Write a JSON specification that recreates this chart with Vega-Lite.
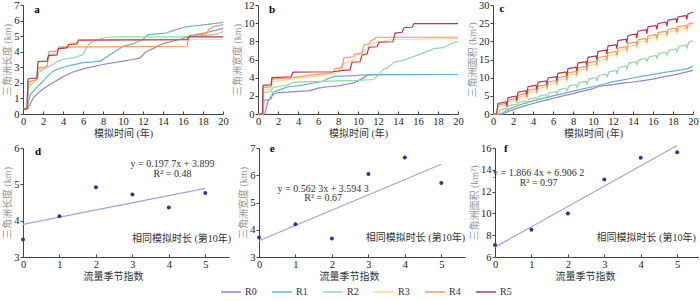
{
"$schema": "https://vega.github.io/schema/vega-lite/v6.json",
"padding": {"left": 2, "top": 0, "right": 0, "bottom": 0},
"datasets": {
"a": [
{"s":"R0","t":0,"v":0.3},{"s":"R0","t":0.5,"v":0.35},{"s":"R0","t":0.7,"v":0.6},{"s":"R0","t":1.0,"v":1.0},{"s":"R0","t":1.5,"v":1.35},{"s":"R0","t":2.0,"v":1.6},{"s":"R0","t":3.0,"v":2.0},{"s":"R0","t":4.0,"v":2.4},{"s":"R0","t":5.0,"v":2.7},{"s":"R0","t":6.3,"v":2.95},{"s":"R0","t":8.0,"v":3.18},{"s":"R0","t":10.0,"v":3.4},{"s":"R0","t":11.0,"v":3.5},{"s":"R0","t":11.7,"v":3.6},{"s":"R0","t":12.3,"v":4.0},{"s":"R0","t":13.0,"v":4.2},{"s":"R0","t":13.7,"v":4.45},{"s":"R0","t":14.5,"v":4.6},{"s":"R0","t":15.7,"v":4.8},{"s":"R0","t":16.5,"v":4.95},{"s":"R0","t":17.3,"v":5.1},{"s":"R0","t":18.5,"v":5.25},{"s":"R0","t":20.0,"v":5.5},
{"s":"R1","t":0,"v":0.3},{"s":"R1","t":0.4,"v":0.35},{"s":"R1","t":0.5,"v":0.6},{"s":"R1","t":0.7,"v":1.2},{"s":"R1","t":1.0,"v":1.45},{"s":"R1","t":1.5,"v":1.8},{"s":"R1","t":2.0,"v":2.1},{"s":"R1","t":2.5,"v":2.45},{"s":"R1","t":3.0,"v":2.75},{"s":"R1","t":3.5,"v":2.9},{"s":"R1","t":4.3,"v":3.05},{"s":"R1","t":5.0,"v":3.15},{"s":"R1","t":6.0,"v":3.3},{"s":"R1","t":7.0,"v":3.35},{"s":"R1","t":7.7,"v":3.4},{"s":"R1","t":8.2,"v":3.6},{"s":"R1","t":8.7,"v":3.8},{"s":"R1","t":9.3,"v":4.05},{"s":"R1","t":10.0,"v":4.35},{"s":"R1","t":11.0,"v":4.5},{"s":"R1","t":12.0,"v":4.8},{"s":"R1","t":12.5,"v":5.1},{"s":"R1","t":13.5,"v":5.15},{"s":"R1","t":14.3,"v":5.2},{"s":"R1","t":15.0,"v":5.35},{"s":"R1","t":16.3,"v":5.6},{"s":"R1","t":17.0,"v":5.65},{"s":"R1","t":18.5,"v":5.75},{"s":"R1","t":20.0,"v":5.88},
{"s":"R2","t":0,"v":0.3},{"s":"R2","t":0.45,"v":0.3},{"s":"R2","t":0.55,"v":1.7},{"s":"R2","t":1.0,"v":2.0},{"s":"R2","t":1.4,"v":2.2},{"s":"R2","t":1.6,"v":2.7},{"s":"R2","t":2.0,"v":2.85},{"s":"R2","t":2.5,"v":3.0},{"s":"R2","t":3.0,"v":3.2},{"s":"R2","t":3.5,"v":3.4},{"s":"R2","t":4.0,"v":3.5},{"s":"R2","t":5.0,"v":3.6},{"s":"R2","t":6.0,"v":3.8},{"s":"R2","t":6.3,"v":4.2},{"s":"R2","t":6.6,"v":4.5},{"s":"R2","t":7.0,"v":4.65},{"s":"R2","t":7.6,"v":4.8},{"s":"R2","t":8.3,"v":4.93},{"s":"R2","t":10.0,"v":4.95},{"s":"R2","t":16.0,"v":4.95},{"s":"R2","t":17.0,"v":5.0},{"s":"R2","t":18.5,"v":5.05},{"s":"R2","t":19.5,"v":5.15},{"s":"R2","t":20.0,"v":5.3},
{"s":"R3","t":0,"v":0.3},{"s":"R3","t":0.4,"v":0.3},{"s":"R3","t":0.5,"v":1.9},{"s":"R3","t":0.9,"v":2.0},{"s":"R3","t":1.3,"v":2.1},{"s":"R3","t":1.5,"v":2.85},{"s":"R3","t":2.4,"v":3.0},{"s":"R3","t":2.6,"v":3.85},{"s":"R3","t":3.4,"v":3.95},{"s":"R3","t":3.6,"v":4.3},{"s":"R3","t":4.4,"v":4.35},{"s":"R3","t":4.6,"v":4.55},{"s":"R3","t":5.4,"v":4.6},{"s":"R3","t":5.6,"v":4.75},{"s":"R3","t":20.0,"v":4.8},
{"s":"R4","t":0,"v":0.3},{"s":"R4","t":0.4,"v":0.3},{"s":"R4","t":0.5,"v":2.05},{"s":"R4","t":1.3,"v":2.2},{"s":"R4","t":1.5,"v":2.95},{"s":"R4","t":2.4,"v":3.05},{"s":"R4","t":2.6,"v":4.0},{"s":"R4","t":3.4,"v":4.05},{"s":"R4","t":3.6,"v":4.3},{"s":"R4","t":16.4,"v":4.35},{"s":"R4","t":16.6,"v":5.05},{"s":"R4","t":18.3,"v":5.1},{"s":"R4","t":18.6,"v":5.45},{"s":"R4","t":19.0,"v":5.6},{"s":"R4","t":20.0,"v":5.75},
{"s":"R5","t":0,"v":0.3},{"s":"R5","t":0.4,"v":0.35},{"s":"R5","t":0.5,"v":2.2},{"s":"R5","t":0.6,"v":2.28},{"s":"R5","t":1.4,"v":2.3},{"s":"R5","t":1.5,"v":3.38},{"s":"R5","t":2.4,"v":3.4},{"s":"R5","t":2.55,"v":3.75},{"s":"R5","t":3.4,"v":3.8},{"s":"R5","t":3.55,"v":4.2},{"s":"R5","t":4.4,"v":4.25},{"s":"R5","t":4.55,"v":4.45},{"s":"R5","t":5.4,"v":4.5},{"s":"R5","t":5.55,"v":4.75},{"s":"R5","t":16.4,"v":4.78},{"s":"R5","t":16.6,"v":4.95},{"s":"R5","t":20.0,"v":4.95}
],
"b": [
{"s":"R0","t":0,"v":0},{"s":"R0","t":0.7,"v":0},{"s":"R0","t":0.8,"v":0.6},{"s":"R0","t":1.0,"v":1.4},{"s":"R0","t":1.3,"v":1.9},{"s":"R0","t":1.6,"v":2.2},{"s":"R0","t":2.0,"v":2.35},{"s":"R0","t":3.0,"v":2.4},{"s":"R0","t":4.0,"v":2.5},{"s":"R0","t":5.0,"v":2.55},{"s":"R0","t":5.5,"v":2.65},{"s":"R0","t":6.0,"v":2.85},{"s":"R0","t":7.0,"v":3.0},{"s":"R0","t":8.0,"v":3.1},{"s":"R0","t":9.0,"v":3.3},{"s":"R0","t":9.5,"v":3.4},{"s":"R0","t":10.0,"v":3.65},{"s":"R0","t":10.5,"v":3.95},{"s":"R0","t":11.0,"v":4.3},{"s":"R0","t":11.5,"v":4.35},{"s":"R0","t":20.0,"v":4.35},
{"s":"R1","t":0,"v":0},{"s":"R1","t":0.5,"v":0},{"s":"R1","t":0.6,"v":1.5},{"s":"R1","t":1.3,"v":1.65},{"s":"R1","t":1.5,"v":2.4},{"s":"R1","t":2.0,"v":2.6},{"s":"R1","t":2.5,"v":2.8},{"s":"R1","t":3.0,"v":3.0},{"s":"R1","t":4.0,"v":3.1},{"s":"R1","t":5.0,"v":3.3},{"s":"R1","t":5.8,"v":3.45},{"s":"R1","t":6.5,"v":3.6},{"s":"R1","t":7.0,"v":3.9},{"s":"R1","t":7.6,"v":4.15},{"s":"R1","t":9.0,"v":4.2},{"s":"R1","t":11.0,"v":4.3},{"s":"R1","t":20.0,"v":4.35},
{"s":"R2","t":0,"v":0},{"s":"R2","t":0.5,"v":0},{"s":"R2","t":0.55,"v":2.3},{"s":"R2","t":1.3,"v":2.5},{"s":"R2","t":1.5,"v":2.9},{"s":"R2","t":2.0,"v":3.0},{"s":"R2","t":3.0,"v":3.2},{"s":"R2","t":3.5,"v":3.5},{"s":"R2","t":6.0,"v":3.6},{"s":"R2","t":8.0,"v":3.65},{"s":"R2","t":10.0,"v":3.7},{"s":"R2","t":11.5,"v":3.8},{"s":"R2","t":12.0,"v":4.2},{"s":"R2","t":12.5,"v":4.9},{"s":"R2","t":13.0,"v":5.1},{"s":"R2","t":13.6,"v":5.7},{"s":"R2","t":14.5,"v":5.9},{"s":"R2","t":15.0,"v":6.1},{"s":"R2","t":15.6,"v":6.35},{"s":"R2","t":16.5,"v":6.7},{"s":"R2","t":17.6,"v":7.2},{"s":"R2","t":18.5,"v":7.3},{"s":"R2","t":19.0,"v":7.6},{"s":"R2","t":20.0,"v":8.0},
{"s":"R3","t":0,"v":0},{"s":"R3","t":0.45,"v":0},{"s":"R3","t":0.5,"v":2.6},{"s":"R3","t":1.3,"v":2.75},{"s":"R3","t":1.45,"v":3.6},{"s":"R3","t":3.5,"v":3.85},{"s":"R3","t":6.0,"v":4.2},{"s":"R3","t":7.5,"v":4.4},{"s":"R3","t":8.0,"v":4.6},{"s":"R3","t":8.5,"v":5.5},{"s":"R3","t":9.5,"v":5.9},{"s":"R3","t":9.8,"v":6.4},{"s":"R3","t":10.6,"v":6.9},{"s":"R3","t":11.0,"v":7.4},{"s":"R3","t":11.6,"v":7.9},{"s":"R3","t":12.5,"v":8.0},{"s":"R3","t":13.3,"v":8.2},{"s":"R3","t":20.0,"v":8.3},
{"s":"R4","t":0,"v":0},{"s":"R4","t":0.45,"v":0},{"s":"R4","t":0.5,"v":2.9},{"s":"R4","t":1.3,"v":3.0},{"s":"R4","t":1.4,"v":3.85},{"s":"R4","t":3.5,"v":4.0},{"s":"R4","t":5.5,"v":4.3},{"s":"R4","t":7.5,"v":4.55},{"s":"R4","t":7.7,"v":5.0},{"s":"R4","t":8.4,"v":5.1},{"s":"R4","t":8.6,"v":6.2},{"s":"R4","t":9.5,"v":6.3},{"s":"R4","t":9.7,"v":6.6},{"s":"R4","t":10.4,"v":6.7},{"s":"R4","t":10.6,"v":7.6},{"s":"R4","t":11.1,"v":7.7},{"s":"R4","t":11.3,"v":8.1},{"s":"R4","t":11.6,"v":8.2},{"s":"R4","t":11.8,"v":8.45},{"s":"R4","t":20.0,"v":8.45},
{"s":"R5","t":0,"v":0},{"s":"R5","t":0.45,"v":0},{"s":"R5","t":0.5,"v":3.15},{"s":"R5","t":1.3,"v":3.2},{"s":"R5","t":1.4,"v":4.0},{"s":"R5","t":3.3,"v":4.1},{"s":"R5","t":3.5,"v":4.6},{"s":"R5","t":7.5,"v":4.65},{"s":"R5","t":8.5,"v":4.8},{"s":"R5","t":9.2,"v":4.85},{"s":"R5","t":9.4,"v":5.7},{"s":"R5","t":10.2,"v":5.75},{"s":"R5","t":10.4,"v":6.5},{"s":"R5","t":10.9,"v":6.6},{"s":"R5","t":11.1,"v":7.35},{"s":"R5","t":11.9,"v":7.4},{"s":"R5","t":12.1,"v":7.9},{"s":"R5","t":13.5,"v":7.95},{"s":"R5","t":13.7,"v":8.9},{"s":"R5","t":14.4,"v":9.0},{"s":"R5","t":14.6,"v":9.5},{"s":"R5","t":15.4,"v":9.55},{"s":"R5","t":15.6,"v":9.95},{"s":"R5","t":20.0,"v":9.95}
],
"c": [
{"s":"R0","t":0,"v":0},{"s":"R0","t":1.0,"v":0},{"s":"R0","t":1.3,"v":0.4},{"s":"R0","t":2.0,"v":1.2},{"s":"R0","t":3.0,"v":2.1},{"s":"R0","t":4.0,"v":2.9},{"s":"R0","t":5.0,"v":3.6},{"s":"R0","t":6.0,"v":4.3},{"s":"R0","t":7.0,"v":5.0},{"s":"R0","t":8.0,"v":5.6},{"s":"R0","t":9.0,"v":6.3},{"s":"R0","t":10.0,"v":7.0},{"s":"R0","t":10.5,"v":7.5},{"s":"R0","t":11.0,"v":7.8},{"s":"R0","t":12.0,"v":8.1},{"s":"R0","t":13.0,"v":8.5},{"s":"R0","t":14.0,"v":8.8},{"s":"R0","t":15.0,"v":9.2},{"s":"R0","t":16.0,"v":9.6},{"s":"R0","t":17.0,"v":10.2},{"s":"R0","t":18.0,"v":10.7},{"s":"R0","t":19.0,"v":11.3},{"s":"R0","t":20.0,"v":12.0},
{"s":"R1","t":0,"v":0},{"s":"R1","t":0.8,"v":0},{"s":"R1","t":1.0,"v":0.4},{"s":"R1","t":1.5,"v":1.2},{"s":"R1","t":2.0,"v":1.8},{"s":"R1","t":3.0,"v":2.8},{"s":"R1","t":4.0,"v":3.6},{"s":"R1","t":5.0,"v":4.3},{"s":"R1","t":6.0,"v":5.0},{"s":"R1","t":7.0,"v":5.6},{"s":"R1","t":8.0,"v":6.3},{"s":"R1","t":9.0,"v":6.9},{"s":"R1","t":10.0,"v":7.5},{"s":"R1","t":11.0,"v":8.2},{"s":"R1","t":12.0,"v":8.9},{"s":"R1","t":13.0,"v":9.4},{"s":"R1","t":14.0,"v":9.9},{"s":"R1","t":15.0,"v":10.4},{"s":"R1","t":16.0,"v":10.9},{"s":"R1","t":17.0,"v":11.4},{"s":"R1","t":18.0,"v":11.8},{"s":"R1","t":19.0,"v":12.2},{"s":"R1","t":19.5,"v":12.5},{"s":"R1","t":20.0,"v":13.1},
{"s":"R2","t":0,"v":0},{"s":"R2","t":0.5,"v":0},{"s":"R2","t":0.7,"v":1.1},{"s":"R2","t":1.3,"v":1.5},
{"s":"R2","t":1.4,"v":0.9},{"s":"R2","t":1.6,"v":2.3},{"s":"R2","t":2.3,"v":2.7},
{"s":"R2","t":2.4,"v":1.9},{"s":"R2","t":2.6,"v":3.2},{"s":"R2","t":3.3,"v":3.6},
{"s":"R2","t":3.4,"v":2.8},{"s":"R2","t":3.6,"v":4.1},{"s":"R2","t":4.3,"v":4.5},
{"s":"R2","t":4.4,"v":3.7},{"s":"R2","t":4.6,"v":4.9},{"s":"R2","t":5.3,"v":5.3},
{"s":"R2","t":5.4,"v":4.5},{"s":"R2","t":5.6,"v":5.8},{"s":"R2","t":6.3,"v":6.2},
{"s":"R2","t":6.4,"v":5.4},{"s":"R2","t":6.6,"v":6.7},{"s":"R2","t":7.3,"v":7.1},
{"s":"R2","t":7.4,"v":6.3},{"s":"R2","t":7.6,"v":7.7},{"s":"R2","t":8.3,"v":8.1},
{"s":"R2","t":8.4,"v":7.3},{"s":"R2","t":8.6,"v":8.6},{"s":"R2","t":9.3,"v":9.0},
{"s":"R2","t":9.4,"v":8.2},{"s":"R2","t":9.6,"v":9.6},{"s":"R2","t":10.3,"v":10.0},
{"s":"R2","t":10.4,"v":9.2},{"s":"R2","t":10.6,"v":10.6},{"s":"R2","t":11.3,"v":11.0},
{"s":"R2","t":11.4,"v":10.2},{"s":"R2","t":11.6,"v":11.6},{"s":"R2","t":12.3,"v":12.0},
{"s":"R2","t":12.4,"v":11.2},{"s":"R2","t":12.6,"v":12.8},{"s":"R2","t":13.3,"v":13.2},
{"s":"R2","t":13.4,"v":12.4},{"s":"R2","t":13.6,"v":14.0},{"s":"R2","t":14.3,"v":14.4},
{"s":"R2","t":14.4,"v":13.6},{"s":"R2","t":14.6,"v":14.9},{"s":"R2","t":15.3,"v":15.3},
{"s":"R2","t":15.4,"v":14.5},{"s":"R2","t":15.6,"v":15.7},{"s":"R2","t":16.3,"v":16.1},
{"s":"R2","t":16.4,"v":15.3},{"s":"R2","t":16.6,"v":16.6},{"s":"R2","t":17.3,"v":17.0},
{"s":"R2","t":17.4,"v":16.2},{"s":"R2","t":17.6,"v":17.5},{"s":"R2","t":18.3,"v":17.9},
{"s":"R2","t":18.4,"v":17.1},{"s":"R2","t":18.6,"v":18.6},{"s":"R2","t":19.3,"v":19.0},
{"s":"R2","t":19.4,"v":18.2},{"s":"R2","t":19.6,"v":19.8},{"s":"R2","t":20.0,"v":20.2},
{"s":"R3","t":0,"v":0},{"s":"R3","t":0.4,"v":0},{"s":"R3","t":0.55,"v":2.1},{"s":"R3","t":1.3,"v":2.5},
{"s":"R3","t":1.38,"v":1.6},{"s":"R3","t":1.5,"v":3.3},{"s":"R3","t":2.3,"v":3.7},
{"s":"R3","t":2.38,"v":2.8},{"s":"R3","t":2.5,"v":4.6},{"s":"R3","t":3.3,"v":5.0},
{"s":"R3","t":3.38,"v":4.1},{"s":"R3","t":3.5,"v":5.9},{"s":"R3","t":4.3,"v":6.3},
{"s":"R3","t":4.38,"v":5.4},{"s":"R3","t":4.5,"v":7.0},{"s":"R3","t":5.3,"v":7.4},
{"s":"R3","t":5.38,"v":6.5},{"s":"R3","t":5.5,"v":8.1},{"s":"R3","t":6.3,"v":8.5},
{"s":"R3","t":6.38,"v":7.6},{"s":"R3","t":6.5,"v":9.3},{"s":"R3","t":7.3,"v":9.7},
{"s":"R3","t":7.38,"v":8.8},{"s":"R3","t":7.5,"v":10.6},{"s":"R3","t":8.3,"v":11.0},
{"s":"R3","t":8.38,"v":10.1},{"s":"R3","t":8.5,"v":12.0},{"s":"R3","t":9.3,"v":12.4},
{"s":"R3","t":9.38,"v":11.5},{"s":"R3","t":9.5,"v":13.3},{"s":"R3","t":10.3,"v":13.7},
{"s":"R3","t":10.38,"v":12.8},{"s":"R3","t":10.5,"v":14.7},{"s":"R3","t":11.3,"v":15.1},
{"s":"R3","t":11.38,"v":14.2},{"s":"R3","t":11.5,"v":16.0},{"s":"R3","t":12.3,"v":16.4},
{"s":"R3","t":12.38,"v":15.5},{"s":"R3","t":12.5,"v":17.3},{"s":"R3","t":13.3,"v":17.7},
{"s":"R3","t":13.38,"v":16.8},{"s":"R3","t":13.5,"v":18.6},{"s":"R3","t":14.3,"v":19.0},
{"s":"R3","t":14.38,"v":18.1},{"s":"R3","t":14.5,"v":19.7},{"s":"R3","t":15.3,"v":20.1},
{"s":"R3","t":15.38,"v":19.2},{"s":"R3","t":15.5,"v":20.7},{"s":"R3","t":16.3,"v":21.1},
{"s":"R3","t":16.38,"v":20.2},{"s":"R3","t":16.5,"v":21.7},{"s":"R3","t":17.3,"v":22.1},
{"s":"R3","t":17.38,"v":21.2},{"s":"R3","t":17.5,"v":22.5},{"s":"R3","t":18.3,"v":22.9},
{"s":"R3","t":18.38,"v":22.0},{"s":"R3","t":18.5,"v":23.3},{"s":"R3","t":19.3,"v":23.7},
{"s":"R3","t":19.38,"v":22.8},{"s":"R3","t":19.5,"v":24.0},{"s":"R3","t":20.0,"v":24.4},
{"s":"R4","t":0,"v":0},{"s":"R4","t":0.35,"v":0},{"s":"R4","t":0.5,"v":2.5},{"s":"R4","t":1.3,"v":2.9},
{"s":"R4","t":1.38,"v":1.9},{"s":"R4","t":1.5,"v":3.8},{"s":"R4","t":2.3,"v":4.2},
{"s":"R4","t":2.38,"v":3.2},{"s":"R4","t":2.5,"v":5.2},{"s":"R4","t":3.3,"v":5.6},
{"s":"R4","t":3.38,"v":4.6},{"s":"R4","t":3.5,"v":6.5},{"s":"R4","t":4.3,"v":6.9},
{"s":"R4","t":4.38,"v":5.9},{"s":"R4","t":4.5,"v":7.6},{"s":"R4","t":5.3,"v":8.0},
{"s":"R4","t":5.38,"v":7.0},{"s":"R4","t":5.5,"v":8.8},{"s":"R4","t":6.3,"v":9.2},
{"s":"R4","t":6.38,"v":8.2},{"s":"R4","t":6.5,"v":10.0},{"s":"R4","t":7.3,"v":10.4},
{"s":"R4","t":7.38,"v":9.4},{"s":"R4","t":7.5,"v":11.3},{"s":"R4","t":8.3,"v":11.7},
{"s":"R4","t":8.38,"v":10.7},{"s":"R4","t":8.5,"v":12.7},{"s":"R4","t":9.3,"v":13.1},
{"s":"R4","t":9.38,"v":12.1},{"s":"R4","t":9.5,"v":14.1},{"s":"R4","t":10.3,"v":14.5},
{"s":"R4","t":10.38,"v":13.5},{"s":"R4","t":10.5,"v":15.5},{"s":"R4","t":11.3,"v":15.9},
{"s":"R4","t":11.38,"v":14.9},{"s":"R4","t":11.5,"v":16.8},{"s":"R4","t":12.3,"v":17.2},
{"s":"R4","t":12.38,"v":16.2},{"s":"R4","t":12.5,"v":18.1},{"s":"R4","t":13.3,"v":18.5},
{"s":"R4","t":13.38,"v":17.5},{"s":"R4","t":13.5,"v":19.4},{"s":"R4","t":14.3,"v":19.8},
{"s":"R4","t":14.38,"v":18.8},{"s":"R4","t":14.5,"v":20.4},{"s":"R4","t":15.3,"v":20.8},
{"s":"R4","t":15.38,"v":19.8},{"s":"R4","t":15.5,"v":21.4},{"s":"R4","t":16.3,"v":21.8},
{"s":"R4","t":16.38,"v":20.8},{"s":"R4","t":16.5,"v":22.4},{"s":"R4","t":17.3,"v":22.8},
{"s":"R4","t":17.38,"v":21.8},{"s":"R4","t":17.5,"v":23.2},{"s":"R4","t":18.3,"v":23.6},
{"s":"R4","t":18.38,"v":22.6},{"s":"R4","t":18.5,"v":24.0},{"s":"R4","t":19.3,"v":24.4},
{"s":"R4","t":19.38,"v":23.4},{"s":"R4","t":19.5,"v":24.7},{"s":"R4","t":20.0,"v":25.1},
{"s":"R5","t":0,"v":0},{"s":"R5","t":0.35,"v":0},{"s":"R5","t":0.5,"v":2.9},{"s":"R5","t":1.3,"v":3.3},
{"s":"R5","t":1.38,"v":2.2},{"s":"R5","t":1.5,"v":4.5},{"s":"R5","t":2.3,"v":4.9},
{"s":"R5","t":2.38,"v":3.8},{"s":"R5","t":2.5,"v":6.0},{"s":"R5","t":3.3,"v":6.4},
{"s":"R5","t":3.38,"v":5.3},{"s":"R5","t":3.5,"v":7.5},{"s":"R5","t":4.3,"v":7.9},
{"s":"R5","t":4.38,"v":6.8},{"s":"R5","t":4.5,"v":8.7},{"s":"R5","t":5.3,"v":9.1},
{"s":"R5","t":5.38,"v":8.0},{"s":"R5","t":5.5,"v":9.9},{"s":"R5","t":6.3,"v":10.3},
{"s":"R5","t":6.38,"v":9.2},{"s":"R5","t":6.5,"v":11.2},{"s":"R5","t":7.3,"v":11.6},
{"s":"R5","t":7.38,"v":10.5},{"s":"R5","t":7.5,"v":12.5},{"s":"R5","t":8.3,"v":12.9},
{"s":"R5","t":8.38,"v":11.8},{"s":"R5","t":8.5,"v":14.0},{"s":"R5","t":9.3,"v":14.4},
{"s":"R5","t":9.38,"v":13.3},{"s":"R5","t":9.5,"v":15.6},{"s":"R5","t":10.3,"v":16.0},
{"s":"R5","t":10.38,"v":14.9},{"s":"R5","t":10.5,"v":17.2},{"s":"R5","t":11.3,"v":17.6},
{"s":"R5","t":11.38,"v":16.5},{"s":"R5","t":11.5,"v":18.7},{"s":"R5","t":12.3,"v":19.1},
{"s":"R5","t":12.38,"v":18.0},{"s":"R5","t":12.5,"v":20.2},{"s":"R5","t":13.3,"v":20.6},
{"s":"R5","t":13.38,"v":19.5},{"s":"R5","t":13.5,"v":21.6},{"s":"R5","t":14.3,"v":22.0},
{"s":"R5","t":14.38,"v":20.9},{"s":"R5","t":14.5,"v":22.8},{"s":"R5","t":15.3,"v":23.2},
{"s":"R5","t":15.38,"v":22.1},{"s":"R5","t":15.5,"v":24.0},{"s":"R5","t":16.3,"v":24.4},
{"s":"R5","t":16.38,"v":23.3},{"s":"R5","t":16.5,"v":24.9},{"s":"R5","t":17.3,"v":25.3},
{"s":"R5","t":17.38,"v":24.2},{"s":"R5","t":17.5,"v":25.8},{"s":"R5","t":18.3,"v":26.2},
{"s":"R5","t":18.38,"v":25.1},{"s":"R5","t":18.5,"v":26.7},{"s":"R5","t":19.3,"v":27.1},
{"s":"R5","t":19.38,"v":26.0},{"s":"R5","t":19.5,"v":27.6},{"s":"R5","t":20.0,"v":28.0}
],
"d": [{"x":0,"y":3.48},{"x":1,"y":4.12},{"x":2,"y":4.92},{"x":3,"y":4.72},{"x":4,"y":4.36},{"x":5,"y":4.76}],
"e": [{"x":0,"y":3.72},{"x":1,"y":4.2},{"x":2,"y":3.68},{"x":3,"y":6.05},{"x":4,"y":6.65},{"x":5,"y":5.72}],
"f": [{"x":0,"y":7.1},{"x":1,"y":8.5},{"x":2,"y":10.0},{"x":3,"y":13.1},{"x":4,"y":15.1},{"x":5,"y":15.6}]
},
"config": {
"view": {"stroke": null},
"font": "Liberation Serif, Noto Sans CJK SC",
"axis": {"grid": false, "domainColor": "#444", "tickColor": "#444", "labelColor": "#222", "labelFont": "Liberation Serif", "labelFontSize": 10.5, "titleFont": "Liberation Serif, Noto Sans CJK SC", "titleFontSize": 10, "titleFontWeight": "normal", "labelFlush": false, "labelOverlap": false, "labelSeparation": 0, "tickSize": 3, "labelPadding": 2, "titlePadding": 2},
"axisX": {"tickSize": -3, "labelPadding": 5, "titleColor": "#333"},
"axisY": {"titleColor": "#999", "labelPadding": 1, "titlePadding": 1},
"legend": {"orient": "none", "legendX": 197, "legendY": 276, "direction": "horizontal", "symbolType": "stroke", "symbolSize": 400, "symbolStrokeWidth": 1.5, "labelFont": "Liberation Serif", "labelFontSize": 10, "labelColor": "#333", "columnPadding": 12, "labelOffset": 3}
},
"spacing": 4,
"resolve": {"scale": {"x": "independent", "y": "independent", "color": "shared"}, "axis": {"x": "independent", "y": "independent"}},
"vconcat": [
{"hconcat": [
{"width": 200, "height": 109, "layer": [
{"data": {"name": "a"}, "mark": {"type": "line", "strokeWidth": 1.2}, "encoding": {
"x": {"field": "t", "type": "quantitative", "scale": {"domain": [0, 20], "nice": false}, "axis": {"values": [0,2,4,6,8,10,12,14,16,18,20], "tickCount": 11, "labelOverlap": false, "title": "模拟时间 (年)"}},
"y": {"field": "v", "type": "quantitative", "scale": {"domain": [0, 7], "nice": false}, "axis": {"values": [0,1,2,3,4,5,6,7], "tickCount": 8, "labelOverlap": false, "title": "三角洲长度 (km)"}},
"color": {"field": "s", "type": "nominal", "title": null, "scale": {"domain": ["R0","R1","R2","R3","R4","R5"], "range": ["#9a85c2","#64b5c9","#98d4a6","#fdd89a","#f4975f","#b5394d"]}}}},
{"data": {"values": [{"t": 1.4, "v": 6.7, "l": "a"}]}, "mark": {"type": "text", "fontWeight": "bold", "fontSize": 11, "font": "Liberation Serif"}, "encoding": {"x": {"field": "t", "type": "quantitative"}, "y": {"field": "v", "type": "quantitative"}, "text": {"field": "l"}}}
]},
{"width": 200, "height": 109, "layer": [
{"data": {"name": "b"}, "mark": {"type": "line", "strokeWidth": 1.2}, "encoding": {
"x": {"field": "t", "type": "quantitative", "scale": {"domain": [0, 20], "nice": false}, "axis": {"values": [0,2,4,6,8,10,12,14,16,18,20], "tickCount": 11, "labelOverlap": false, "title": "模拟时间 (年)"}},
"y": {"field": "v", "type": "quantitative", "scale": {"domain": [0, 12], "nice": false}, "axis": {"values": [0,2,4,6,8,10,12], "tickCount": 7, "labelOverlap": false, "title": "三角洲宽度 (km)"}},
"color": {"field": "s", "type": "nominal", "title": null, "scale": {"domain": ["R0","R1","R2","R3","R4","R5"], "range": ["#9a85c2","#64b5c9","#98d4a6","#fdd89a","#f4975f","#b5394d"]}}}},
{"data": {"values": [{"t": 1.4, "v": 11.5, "l": "b"}]}, "mark": {"type": "text", "fontWeight": "bold", "fontSize": 11, "font": "Liberation Serif"}, "encoding": {"x": {"field": "t", "type": "quantitative"}, "y": {"field": "v", "type": "quantitative"}, "text": {"field": "l"}}}
]},
{"width": 200, "height": 109, "layer": [
{"data": {"name": "c"}, "mark": {"type": "line", "strokeWidth": 1.2}, "encoding": {
"x": {"field": "t", "type": "quantitative", "scale": {"domain": [0, 20], "nice": false}, "axis": {"values": [0,2,4,6,8,10,12,14,16,18,20], "tickCount": 11, "labelOverlap": false, "title": "模拟时间 (年)"}},
"y": {"field": "v", "type": "quantitative", "scale": {"domain": [0, 30], "nice": false}, "axis": {"values": [0,5,10,15,20,25,30], "tickCount": 7, "labelOverlap": false, "title": "三角洲面积 (km²)"}},
"color": {"field": "s", "type": "nominal", "title": null, "scale": {"domain": ["R0","R1","R2","R3","R4","R5"], "range": ["#9a85c2","#64b5c9","#98d4a6","#fdd89a","#f4975f","#b5394d"]}}}},
{"data": {"values": [{"t": 0.9, "v": 28.9, "l": "c"}]}, "mark": {"type": "text", "fontWeight": "bold", "fontSize": 11, "font": "Liberation Serif"}, "encoding": {"x": {"field": "t", "type": "quantitative"}, "y": {"field": "v", "type": "quantitative"}, "text": {"field": "l"}}}
]}
], "spacing": 35, "bounds": "flush", "resolve": {"scale": {"x": "independent", "y": "independent", "color": "shared"}, "axis": {"x": "independent", "y": "independent"}}},
{"hconcat": [
{"width": 206, "height": 109, "layer": [
{"data": {"values": [{"x": 0, "y": 3.899, "x1": 5, "y1": 4.8875}]}, "mark": {"type": "rule", "color": "#a4a3d6", "strokeWidth": 1.2}, "encoding": {"x": {"field": "x", "type": "quantitative", "scale": {"domain": [0, 5.65], "nice": false}, "axis": {"values": [0,1,2,3,4,5], "tickCount": 6, "labelOverlap": false, "title": "流量季节指数", "titleX": 90}}, "y": {"field": "y", "type": "quantitative", "scale": {"domain": [3, 6], "nice": false}, "axis": {"values": [3,4,5,6], "tickCount": 4, "labelOverlap": false, "title": "三角洲长度 (km)"}}, "x2": {"field": "x1"}, "y2": {"field": "y1"}}},
{"data": {"name": "d"}, "mark": {"type": "circle", "color": "#2b3990", "opacity": 1, "size": 16}, "encoding": {"x": {"field": "x", "type": "quantitative"}, "y": {"field": "y", "type": "quantitative"}}},
{"data": {"values": [{"x": 4.1, "y": 5.56, "l": "y = 0.197 7x + 3.899"}, {"x": 4.1, "y": 5.28, "l": "R² = 0.48"}, {"x": 4.35, "y": 3.5, "l": "相同模拟时长 (第10年)"}]}, "mark": {"type": "text", "fontSize": 10, "color": "#333", "font": "Liberation Serif, Noto Sans CJK SC"}, "encoding": {"x": {"field": "x", "type": "quantitative"}, "y": {"field": "y", "type": "quantitative"}, "text": {"field": "l"}}},
{"data": {"values": [{"x": 0.41, "y": 5.9, "l": "d"}]}, "mark": {"type": "text", "fontWeight": "bold", "fontSize": 11, "font": "Liberation Serif"}, "encoding": {"x": {"field": "x", "type": "quantitative"}, "y": {"field": "y", "type": "quantitative"}, "text": {"field": "l"}}}
]},
{"width": 206, "height": 109, "layer": [
{"data": {"values": [{"x": 0, "y": 3.5943, "x1": 5, "y1": 6.4058}]}, "mark": {"type": "rule", "color": "#a4a3d6", "strokeWidth": 1.2}, "encoding": {"x": {"field": "x", "type": "quantitative", "scale": {"domain": [0, 5.65], "nice": false}, "axis": {"values": [0,1,2,3,4,5], "tickCount": 6, "labelOverlap": false, "title": "流量季节指数", "titleX": 90}}, "y": {"field": "y", "type": "quantitative", "scale": {"domain": [3, 7], "nice": false}, "axis": {"values": [3,4,5,6,7], "tickCount": 5, "labelOverlap": false, "title": "三角洲宽度 (km)"}}, "x2": {"field": "x1"}, "y2": {"field": "y1"}}},
{"data": {"name": "e"}, "mark": {"type": "circle", "color": "#2b3990", "opacity": 1, "size": 16}, "encoding": {"x": {"field": "x", "type": "quantitative"}, "y": {"field": "y", "type": "quantitative"}}},
{"data": {"values": [{"x": 1.76, "y": 5.5, "l": "y = 0.562 3x + 3.594 3"}, {"x": 1.76, "y": 5.15, "l": "R² = 0.67"}, {"x": 4.29, "y": 3.7, "l": "相同模拟时长 (第10年)"}]}, "mark": {"type": "text", "fontSize": 10, "color": "#333", "font": "Liberation Serif, Noto Sans CJK SC"}, "encoding": {"x": {"field": "x", "type": "quantitative"}, "y": {"field": "y", "type": "quantitative"}, "text": {"field": "l"}}},
{"data": {"values": [{"x": 0.36, "y": 6.95, "l": "e"}]}, "mark": {"type": "text", "fontWeight": "bold", "fontSize": 11, "font": "Liberation Serif"}, "encoding": {"x": {"field": "x", "type": "quantitative"}, "y": {"field": "y", "type": "quantitative"}, "text": {"field": "l"}}}
]},
{"width": 204, "height": 109, "layer": [
{"data": {"values": [{"x": 0, "y": 6.9062, "x1": 5, "y1": 16.2382}]}, "mark": {"type": "rule", "color": "#a4a3d6", "strokeWidth": 1.2}, "encoding": {"x": {"field": "x", "type": "quantitative", "scale": {"domain": [0, 5.6], "nice": false}, "axis": {"values": [0,1,2,3,4,5], "tickCount": 6, "labelOverlap": false, "title": "流量季节指数", "titleX": 90}}, "y": {"field": "y", "type": "quantitative", "scale": {"domain": [6, 16], "nice": false}, "axis": {"values": [6,8,10,12,14,16], "tickCount": 6, "labelOverlap": false, "title": "三角洲面积 (km²)"}}, "x2": {"field": "x1"}, "y2": {"field": "y1"}}},
{"data": {"name": "f"}, "mark": {"type": "circle", "color": "#2b3990", "opacity": 1, "size": 16}, "encoding": {"x": {"field": "x", "type": "quantitative"}, "y": {"field": "y", "type": "quantitative"}}},
{"data": {"values": [{"x": 1.2, "y": 13.7, "l": "y = 1.866 4x + 6.906 2"}, {"x": 1.2, "y": 12.8, "l": "R² = 0.97"}, {"x": 4.15, "y": 7.7, "l": "相同模拟时长 (第10年)"}]}, "mark": {"type": "text", "fontSize": 10, "color": "#333", "font": "Liberation Serif, Noto Sans CJK SC"}, "encoding": {"x": {"field": "x", "type": "quantitative"}, "y": {"field": "y", "type": "quantitative"}, "text": {"field": "l"}}},
{"data": {"values": [{"x": 0.3, "y": 15.9, "l": "f"}]}, "mark": {"type": "text", "fontWeight": "bold", "fontSize": 11, "font": "Liberation Serif"}, "encoding": {"x": {"field": "x", "type": "quantitative"}, "y": {"field": "y", "type": "quantitative"}, "text": {"field": "l"}}}
]}
], "spacing": 30, "bounds": "flush", "resolve": {"scale": {"x": "independent", "y": "independent"}, "axis": {"x": "independent", "y": "independent"}}}
]
}
